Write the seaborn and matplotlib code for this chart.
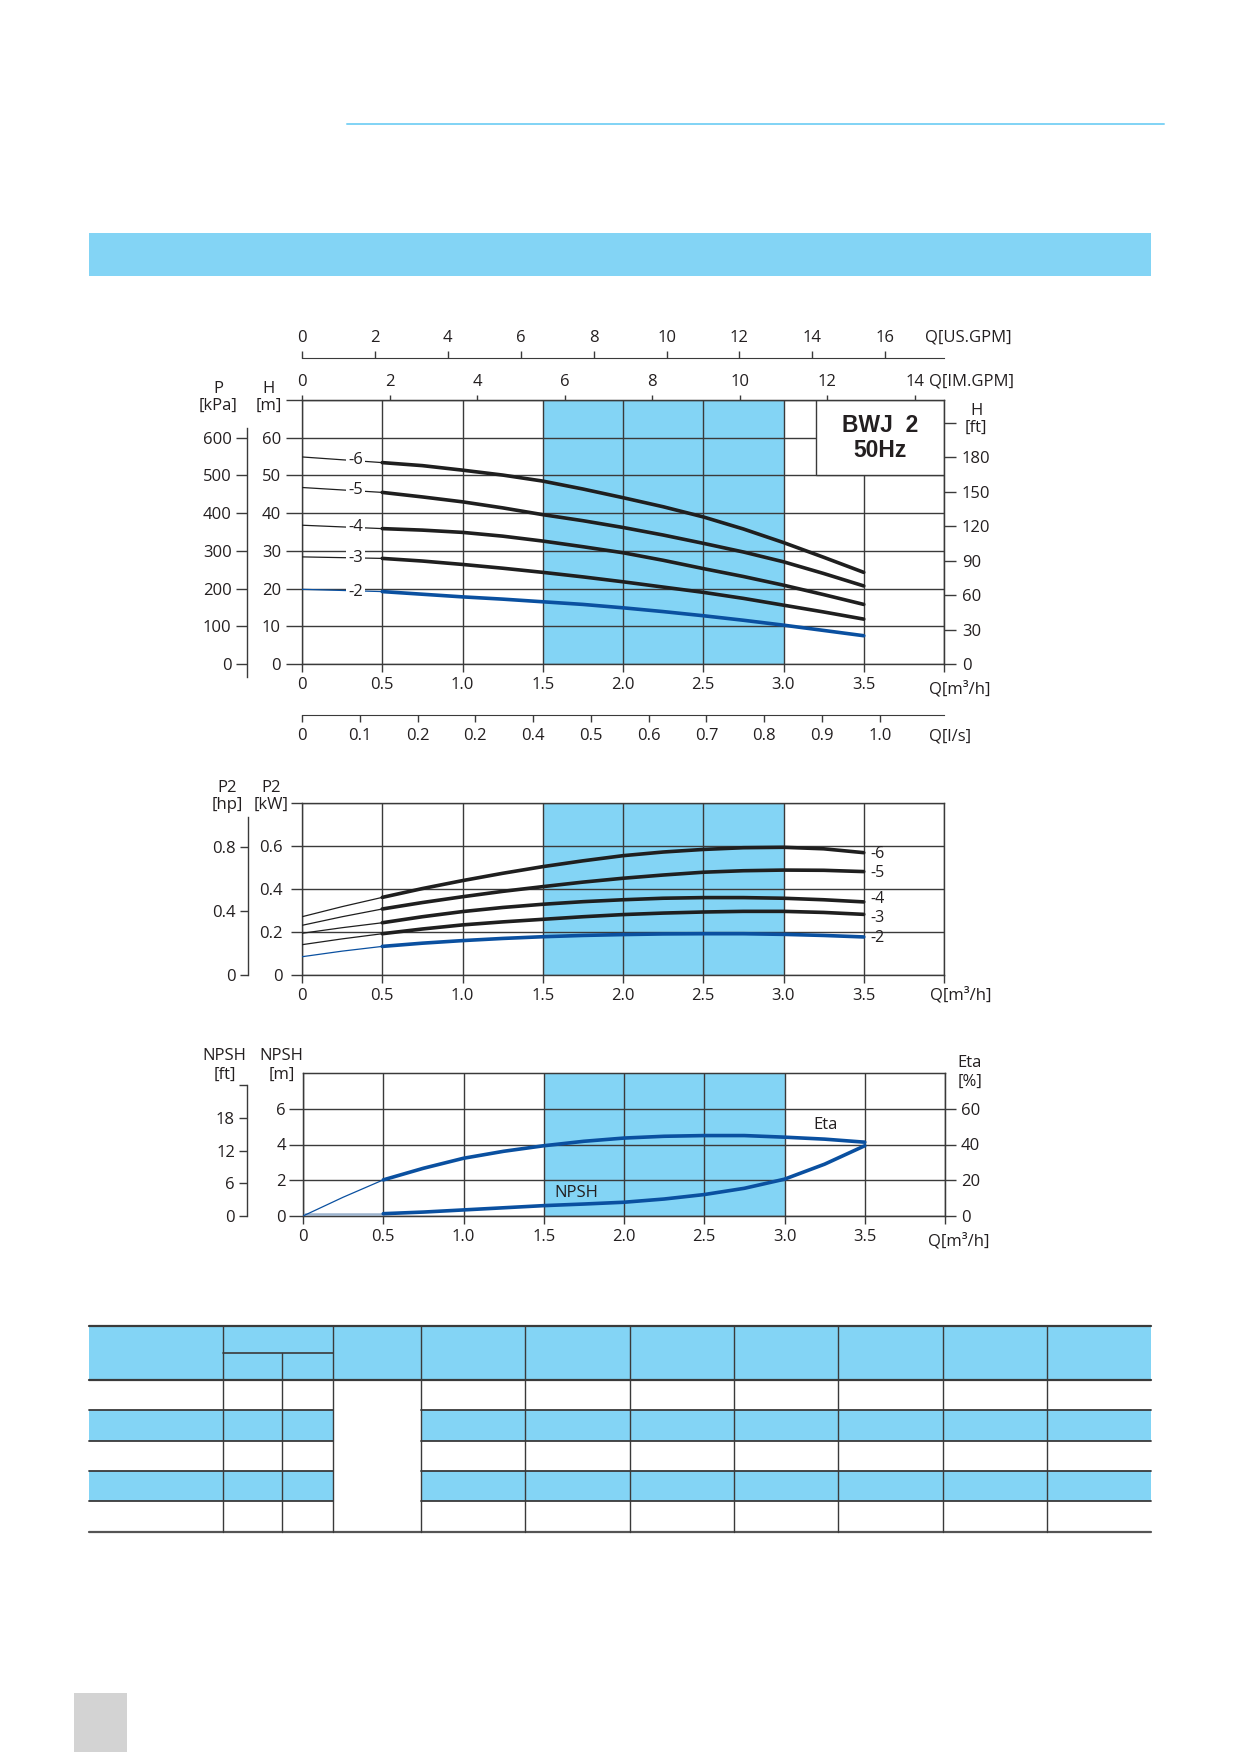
import numpy as np
import matplotlib
matplotlib.use("Agg")
import matplotlib.pyplot as plt
import seaborn as sns
from matplotlib.patches import Rectangle
from matplotlib.lines import Line2D

W, H = 1239, 1752
PT = 0.72  # points per pixel at dpi 100

# ---------------- data ----------------
stages = ["-6", "-5", "-4", "-3", "-2"]

# H-Q curves [m], Q in m3/h
q_head = [0.5, 0.75, 1.0, 1.25, 1.5, 1.75, 2.0, 2.25, 2.5, 2.75, 3.0, 3.25, 3.5]
head_6 = [53.4, 52.6, 51.4, 50.1, 48.5, 46.4, 44.1, 41.7, 39.0, 35.8, 32.2, 28.3, 24.3]
head_5 = [45.5, 44.3, 43.0, 41.4, 39.6, 38.0, 36.2, 34.2, 32.0, 29.7, 27.1, 24.0, 20.7]
head_4 = [35.9, 35.5, 34.9, 33.9, 32.6, 31.1, 29.5, 27.5, 25.3, 23.2, 20.9, 18.4, 15.8]
head_3 = [28.0, 27.3, 26.4, 25.4, 24.3, 23.1, 21.8, 20.4, 19.0, 17.4, 15.6, 13.8, 11.9]
head_2 = [19.2, 18.5, 17.8, 17.2, 16.5, 15.8, 14.9, 13.9, 12.8, 11.6, 10.3, 8.9, 7.5]
head_at_zero = [54.9, 46.8, 36.8, 28.4, 19.8]
head_label_y = [54.0, 46.1, 36.2, 28.0, 19.0]

# P2 curves [kW]
q_p2 = [0, 0.25, 0.5, 0.75, 1.0, 1.25, 1.5, 1.75, 2.0, 2.25, 2.5, 2.75, 3.0, 3.25, 3.5]
p2_6 = [0.271, 0.318, 0.361, 0.402, 0.439, 0.473, 0.504, 0.531, 0.555, 0.572, 0.584, 0.592, 0.594, 0.587, 0.569]
p2_5 = [0.231, 0.271, 0.307, 0.337, 0.364, 0.389, 0.411, 0.432, 0.450, 0.465, 0.478, 0.485, 0.488, 0.487, 0.481]
p2_4 = [0.194, 0.220, 0.243, 0.271, 0.295, 0.314, 0.329, 0.341, 0.350, 0.357, 0.360, 0.360, 0.357, 0.350, 0.340]
p2_3 = [0.141, 0.168, 0.192, 0.214, 0.233, 0.247, 0.259, 0.271, 0.281, 0.288, 0.293, 0.296, 0.296, 0.291, 0.282]
p2_2 = [0.085, 0.111, 0.133, 0.148, 0.160, 0.170, 0.178, 0.184, 0.188, 0.191, 0.192, 0.192, 0.189, 0.184, 0.177]
p2_label_y = [0.561, 0.476, 0.352, 0.267, 0.171]

# NPSH [m] and Eta [%]
q_npsh = [0.5, 0.75, 1.0, 1.25, 1.5, 1.75, 2.0, 2.25, 2.5, 2.75, 3.0, 3.25, 3.5]
npsh = [0.13, 0.22, 0.34, 0.46, 0.58, 0.67, 0.77, 0.95, 1.20, 1.55, 2.06, 2.90, 3.93]
eta = [20.2, 26.7, 32.3, 36.2, 39.3, 41.8, 43.6, 44.6, 45.0, 45.0, 44.1, 43.0, 41.3]
q_lead = [0, 0.25, 0.5]
eta_lead = [0, 10.5, 20.2]
npsh_lead = [0.13, 0.13, 0.13]

# axis ticks
q_ticks = [0, 0.5, 1.0, 1.5, 2.0, 2.5, 3.0, 3.5, 4.0]
q_labels = ["0", "0.5", "1.0", "1.5", "2.0", "2.5", "3.0", "3.5", ""]
us_gpm_ticks = [0, 2, 4, 6, 8, 10, 12, 14, 16]
im_gpm_ticks = [0, 2, 4, 6, 8, 10, 12, 14]
ls_ticks = [0, 0.1, 0.2, 0.3, 0.4, 0.5, 0.6, 0.7, 0.8, 0.9, 1.0]
ls_labels = ["0", "0.1", "0.2", "0.2", "0.4", "0.5", "0.6", "0.7", "0.8", "0.9", "1.0"]
h_ticks = [0, 10, 20, 30, 40, 50, 60, 70]
h_labels = ["0", "10", "20", "30", "40", "50", "60", ""]
hft_ticks = [0, 30, 60, 90, 120, 150, 180, 210]
hft_labels = ["0", "30", "60", "90", "120", "150", "180", ""]
kpa_ticks = [0, 100, 200, 300, 400, 500, 600]
kw_ticks = [0, 0.2, 0.4, 0.6, 0.8]
kw_labels = ["0", "0.2", "0.4", "0.6", ""]
hp_ticks = [0, 0.4, 0.8]
npsh_ticks = [0, 2, 4, 6]
npsh_ft_ticks = [0, 6, 12, 18, 24]
npsh_ft_labels = ["0", "6", "12", "18", ""]
eta_ticks = [0, 20, 40, 60]

# ---------------- style ----------------
BLUE = "#83d4f5"
GRID = "#3a3a3a"
TXT = "#231f20"
DARK = "#1f1f1f"
CURVE_BLUE = "#0a50a0"

sns.set_style("white")
plt.rcParams["font.family"] = ["Open Sans", "DejaVu Sans"]
plt.rcParams["font.size"] = 12

fig = plt.figure(figsize=(W / 100, H / 100), dpi=100)


def px_axes(left, top, right, bottom):
    return fig.add_axes([left / W, 1 - bottom / H, (right - left) / W, (bottom - top) / H])


def ftext(x, y, s, ha="center", va="center", **kw):
    fig.text(x / W, 1 - y / H, s, ha=ha, va=va, color=TXT, **kw)


def frect(x0, y0, x1, y1, color):
    fig.add_artist(Rectangle((x0 / W, 1 - y1 / H), (x1 - x0) / W, (y1 - y0) / H,
                             transform=fig.transFigure, facecolor=color, edgecolor="none", zorder=0))


def fline(x0, y0, x1, y1, color=GRID, lw=1.0):
    fig.add_artist(Line2D([x0 / W, x1 / W], [1 - y0 / H, 1 - y1 / H],
                          transform=fig.transFigure, color=color, lw=lw))


def setup_chart(ax, ymax, yticks, ylabels, ylen, ypad):
    ax.set_xlim(0, 4)
    ax.set_ylim(0, ymax)
    ax.axvspan(1.5, 3.0, color=BLUE, lw=0, zorder=0.2)
    ax.set_axisbelow(True)
    ax.grid(True, color=GRID, lw=1.0)
    ax.set_xticks(q_ticks, q_labels)
    ax.set_yticks(yticks, ylabels)
    ax.tick_params(axis="x", bottom=True, direction="out", length=8 * PT, width=1, color=GRID,
                   pad=5 * PT, labelsize=12, labelcolor=TXT)
    ax.tick_params(axis="y", left=True, direction="out", length=ylen * PT, width=1, color=GRID,
                   pad=ypad * PT, labelsize=12, labelcolor=TXT)
    for s in ax.spines.values():
        s.set_color(GRID)
        s.set_linewidth(1.0)
    ax.set_xlabel("")
    ax.set_ylabel("")


def side_axis(x, top, bottom, lim, ticks, labels, ticklen, pad):
    a = px_axes(x, top, x + 1, bottom)
    a.set_ylim(*lim)
    a.patch.set_visible(False)
    for k in ["top", "right", "bottom"]:
        a.spines[k].set_visible(False)
    a.spines["left"].set_color(GRID)
    a.spines["left"].set_linewidth(1.0)
    a.set_xticks([])
    a.set_yticks(ticks, labels)
    a.tick_params(axis="y", left=True, direction="out", length=ticklen * PT, width=1, color=GRID,
                  pad=pad * PT, labelsize=12, labelcolor=TXT)
    return a


# ---------------- page decoration ----------------
fline(346.7, 124, 1164, 124, color=BLUE, lw=2 * PT)
frect(89, 233.3, 1151, 276, BLUE)
frect(74, 1693, 127, 1752, "#d3d3d3")

# ---------------- H-Q chart ----------------
ax1 = px_axes(302, 400, 944, 664)
setup_chart(ax1, 70, h_ticks, h_labels, 16, 5)

heads = [head_6, head_5, head_4, head_3, head_2]
for name, hv, h0, ly in zip(stages, heads, head_at_zero, head_label_y):
    col = CURVE_BLUE if name == "-2" else DARK
    sns.lineplot(x=[0, 0.5], y=[h0, hv[0]], ax=ax1, color=col, lw=0.9, zorder=3)
    sns.lineplot(x=q_head, y=hv, ax=ax1, color=col, lw=2.6, zorder=4)
    ax1.text(0.335, ly, name, ha="center", va="center", fontsize=12, color=TXT, zorder=5,
             bbox=dict(facecolor="white", edgecolor="none", pad=1.5))

ax1.add_patch(Rectangle((3.2, 50), 0.8, 20, facecolor="white", edgecolor=GRID, lw=1.0, zorder=2))
ax1.text(3.6, 63.3, "BWJ  2", ha="center", va="center", fontsize=16.5, fontweight="bold",
         family="Liberation Sans", color=TXT, zorder=6)
ax1.text(3.6, 56.5, "50Hz", ha="center", va="center", fontsize=16.5, fontweight="bold",
         family="Liberation Sans", color=TXT, zorder=6)

sec_im = ax1.secondary_xaxis("top", functions=(lambda q: q * 3.666, lambda g: g / 3.666))
sec_im.set_xticks(im_gpm_ticks)
sec_im.tick_params(top=True, direction="out", length=5 * PT, width=1, color=GRID, pad=5 * PT,
                   labelsize=12, labelcolor=TXT)
sec_im.spines["top"].set_color(GRID)

sec_us = ax1.secondary_xaxis((664 - 357.7) / 264, functions=(lambda q: q * 4.4029, lambda g: g / 4.4029))
sec_us.set_xticks(us_gpm_ticks)
sec_us.tick_params(top=True, direction="out", length=7 * PT, width=1, color=GRID, pad=5 * PT,
                   labelsize=12, labelcolor=TXT)
for s in sec_us.spines.values():
    s.set_color(GRID)

sec_ls = ax1.secondary_xaxis(-(715 - 664) / 264, functions=(lambda q: q / 3.6, lambda l: l * 3.6))
sec_ls.set_xticks(ls_ticks, ls_labels)
sec_ls.tick_params(bottom=True, direction="out", length=7 * PT, width=1, color=GRID, pad=6 * PT,
                   labelsize=12, labelcolor=TXT)
for s in sec_ls.spines.values():
    s.set_color(GRID)

sec_ft = ax1.secondary_yaxis("right", functions=(lambda m: m * 3.2808, lambda f: f / 3.2808))
sec_ft.set_yticks(hft_ticks, hft_labels)
sec_ft.tick_params(right=True, direction="out", length=12 * PT, width=1, color=GRID, pad=6 * PT,
                   labelsize=12, labelcolor=TXT)
sec_ft.spines["right"].set_color(GRID)

px_per_m = 264 / 70
side_axis(246.6, 428, 677, ((664 - 677) / px_per_m * 10, (664 - 428) / px_per_m * 10),
          kpa_ticks, [str(v) for v in kpa_ticks], 11, 4)

ftext(218.5, 389, "P")
ftext(218.5, 406, "[kPa]")
ftext(268.4, 389, "H")
ftext(268.4, 406, "[m]")
ftext(976, 411, "H")
ftext(976, 428, "[ft]")
ftext(925, 338, "Q[US.GPM]", ha="left")
ftext(929, 381.7, "Q[IM.GPM]", ha="left")
ftext(929, 689, "Q[m³/h]", ha="left")
ftext(929, 736.7, "Q[l/s]", ha="left")

# ---------------- P2 chart ----------------
ax2 = px_axes(302, 803, 944, 975)
setup_chart(ax2, 0.8, kw_ticks, kw_labels, 11, 8)

p2_curves = [p2_6, p2_5, p2_4, p2_3, p2_2]
for name, pv, ly in zip(stages, p2_curves, p2_label_y):
    col = CURVE_BLUE if name == "-2" else DARK
    sns.lineplot(x=q_p2[:3], y=pv[:3], ax=ax2, color=col, lw=0.9, zorder=3)
    sns.lineplot(x=q_p2[2:], y=pv[2:], ax=ax2, color=col, lw=2.6, zorder=4)
    ax2.text(3.54, ly, name, ha="left", va="center", fontsize=11.5, color=TXT, zorder=5)

kw_px = 172 / 0.8
side_axis(247.6, 816.7, 975, (0, (975 - 816.7) / kw_px / 0.7457),
          hp_ticks, ["0", "0.4", "0.8"], 8.5, 3)

ftext(227, 788, "P2")
ftext(227, 805, "[hp]")
ftext(271, 788, "P2")
ftext(271, 805, "[kW]")
ftext(930, 995, "Q[m³/h]", ha="left")

# ---------------- NPSH / Eta chart ----------------
ax3 = px_axes(303, 1073, 945, 1216)
setup_chart(ax3, 8, npsh_ticks, [str(v) for v in npsh_ticks], 14, 3)

sns.lineplot(x=[0, 0.5], y=npsh_lead[:2], ax=ax3, color="#9db4cf", lw=1.8, zorder=3)
sns.lineplot(x=q_npsh, y=npsh, ax=ax3, color=CURVE_BLUE, lw=2.6, zorder=4)
ax3.text(1.70, 1.31, "NPSH", ha="center", va="center", fontsize=12, color=TXT, zorder=5)
ax3.text(3.257, 5.10, "Eta", ha="center", va="center", fontsize=12, color=TXT, zorder=5)

ax3e = ax3.twinx()
ax3e.set_ylim(0, 80)
ax3e.set_yticks(eta_ticks)
ax3e.tick_params(axis="y", right=True, direction="out", length=11 * PT, width=1, color=GRID, pad=5 * PT,
                 labelsize=12, labelcolor=TXT)
ax3e.grid(False)
for s in ax3e.spines.values():
    s.set_color(GRID)
sns.lineplot(x=q_lead, y=eta_lead, ax=ax3e, color=CURVE_BLUE, lw=0.9, zorder=3)
sns.lineplot(x=q_npsh, y=eta, ax=ax3e, color=CURVE_BLUE, lw=2.6, zorder=4)
ax3e.set_ylabel("")

m_px = 143 / 8
side_axis(247, 1216 - 7.315 * m_px, 1216, (0, 24), npsh_ft_ticks, npsh_ft_labels, 8, 4)

ftext(224.6, 1056, "NPSH")
ftext(224.6, 1075, "[ft]")
ftext(281.8, 1056, "NPSH")
ftext(281.8, 1075, "[m]")
ftext(970, 1063, "Eta")
ftext(970, 1082, "[%]")
ftext(928, 1241.7, "Q[m³/h]", ha="left")

# ---------------- table ----------------
tx0, tx1 = 88.5, 1151
cols = [223.3, 282.3, 333.3, 421, 525.3, 629.5, 733.5, 838, 942.6, 1046.6]
rows = [1380, 1410.3, 1440.7, 1471, 1501.3, 1532]
frect(tx0, 1326, tx1, 1380, BLUE)
for r0, r1 in [(1410.3, 1440.7), (1471, 1501.3)]:
    frect(tx0, r0, 333.3, r1, BLUE)
    frect(421, r0, tx1, r1, BLUE)
fline(tx0, 1326, tx1, 1326, lw=1.6)
fline(tx0, 1380, tx1, 1380, lw=1.6)
fline(tx0, 1532, tx1, 1532, color="#555555", lw=1.6)
for r in rows[1:-1]:
    fline(tx0, r, 333.3, r, lw=1.3)
    fline(421, r, tx1, r, lw=1.3)
fline(223.3, 1353, 333.3, 1353, lw=1.2)
for c in cols:
    top = 1353 if c == 282.3 else 1326
    fline(c, top, c, 1532, lw=1.0)

fig.savefig("out.png", dpi=100)
